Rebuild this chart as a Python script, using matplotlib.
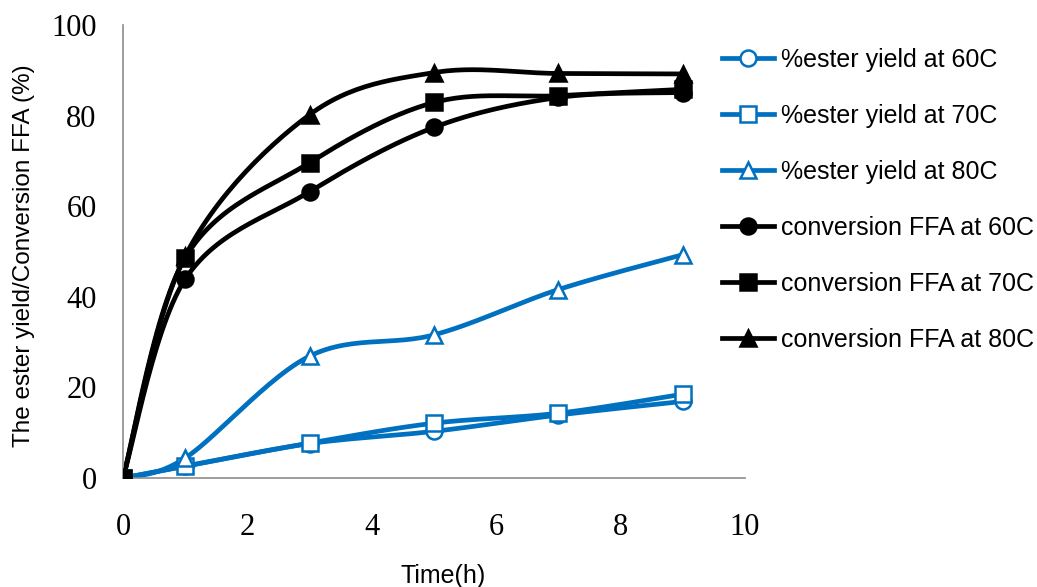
import numpy as np
import matplotlib
matplotlib.use('Agg')
from matplotlib import pyplot as plt

# reaction time (h)
time_h = [0, 1, 3, 5, 7, 9]

# %ester yield
ester_60 = [0, 2.6, 7.6, 10.3, 13.9, 16.9]
ester_70 = [0, 2.6, 7.7, 12.1, 14.3, 18.5]
ester_80 = [0, 4.4, 26.9, 31.6, 41.6, 49.3]

# conversion FFA
ffa_60 = [0, 43.9, 63.2, 77.4, 84.0, 85.1]
ffa_70 = [0, 48.6, 69.6, 82.9, 84.4, 85.8]
ffa_80 = [0, 49.0, 80.2, 89.5, 89.3, 89.2]

labels = ['%ester yield at 60C', '%ester yield at 70C', '%ester yield at 80C',
          'conversion FFA at 60C', 'conversion FFA at 70C', 'conversion FFA at 80C']

BLUE = '#0070C0'


def smooth(x, y, n=30):
    # Excel-like smoothed line (Catmull-Rom style bezier)
    x = np.asarray(x, float)
    y = np.asarray(y, float)
    P = np.column_stack([x, y])
    out = []
    for i in range(len(P) - 1):
        p0 = P[i - 1] if i > 0 else P[i]
        p1, p2 = P[i], P[i + 1]
        p3 = P[i + 2] if i + 2 < len(P) else P[i + 1]
        c1 = p1 + (p2 - p0) / 6.0
        c2 = p2 - (p3 - p1) / 6.0
        t = np.linspace(0, 1, n)[:, None]
        seg = ((1 - t) ** 3) * p1 + 3 * ((1 - t) ** 2) * t * c1 + 3 * (1 - t) * t ** 2 * c2 + t ** 3 * p2
        out.append(seg if i == 0 else seg[1:])
    s = np.vstack(out)
    return s[:, 0], s[:, 1]


fig = plt.figure(figsize=(10.37, 5.87), dpi=100)
ax = fig.add_axes([0.1186, 0.1857, 0.5998, 0.7717])

series = [
    (ester_60, BLUE, 'o', 'white'),
    (ester_70, BLUE, 's', 'white'),
    (ester_80, BLUE, '^', 'white'),
    (ffa_60, 'black', 'o', 'black'),
    (ffa_70, 'black', 's', 'black'),
    (ffa_80, 'black', '^', 'black'),
]

LW = 3.4
MS = 11.5
handles = []
for (vals, col, mk, fc), lab in zip(series, labels):
    sx, sy = smooth(time_h, vals)
    ax.plot(sx, sy, color=col, lw=LW, solid_capstyle='round', zorder=2)
    ax.plot(time_h, vals, ls='none', marker=mk, ms=MS, mfc=fc, mec=col, mew=1.8, zorder=3)
    h, = ax.plot([], [], color=col, lw=LW, marker=mk, ms=MS, mfc=fc, mec=col, mew=1.8)
    handles.append(h)

ax.set_xlim(0, 10)
ax.set_ylim(0, 100)
ax.set_xticks([0, 2, 4, 6, 8, 10])
ax.set_yticks([0, 20, 40, 60, 80, 100])
ax.tick_params(length=0, labelsize=22)
for t in ax.get_xticklabels() + ax.get_yticklabels():
    t.set_fontfamily('Liberation Serif')
ax.tick_params(axis='x', pad=25)
ax.tick_params(axis='y', pad=19)

for s in ['top', 'right']:
    ax.spines[s].set_visible(False)
for s in ['left', 'bottom']:
    ax.spines[s].set_color('#8c8c8c')
    ax.spines[s].set_linewidth(1.2)

fig.text(24 / 1037, 1 - 256 / 587, 'The ester yield/Conversion FFA (%)', rotation=90,
         ha='center', va='center', fontsize=17.5, fontfamily='Liberation Sans')
fig.text(443 / 1037, 4 / 587, 'Time(h)', ha='center', va='baseline',
         fontsize=18, fontfamily='Liberation Sans')

fig.legend(handles=handles, labels=labels, loc='upper left',
           bbox_to_anchor=(0.6745, 0.957), frameon=False,
           prop={'family': 'Liberation Sans', 'size': 18},
           handlelength=2.1, handletextpad=0.25, labelspacing=1.28)

fig.savefig('out.png', dpi=100)
